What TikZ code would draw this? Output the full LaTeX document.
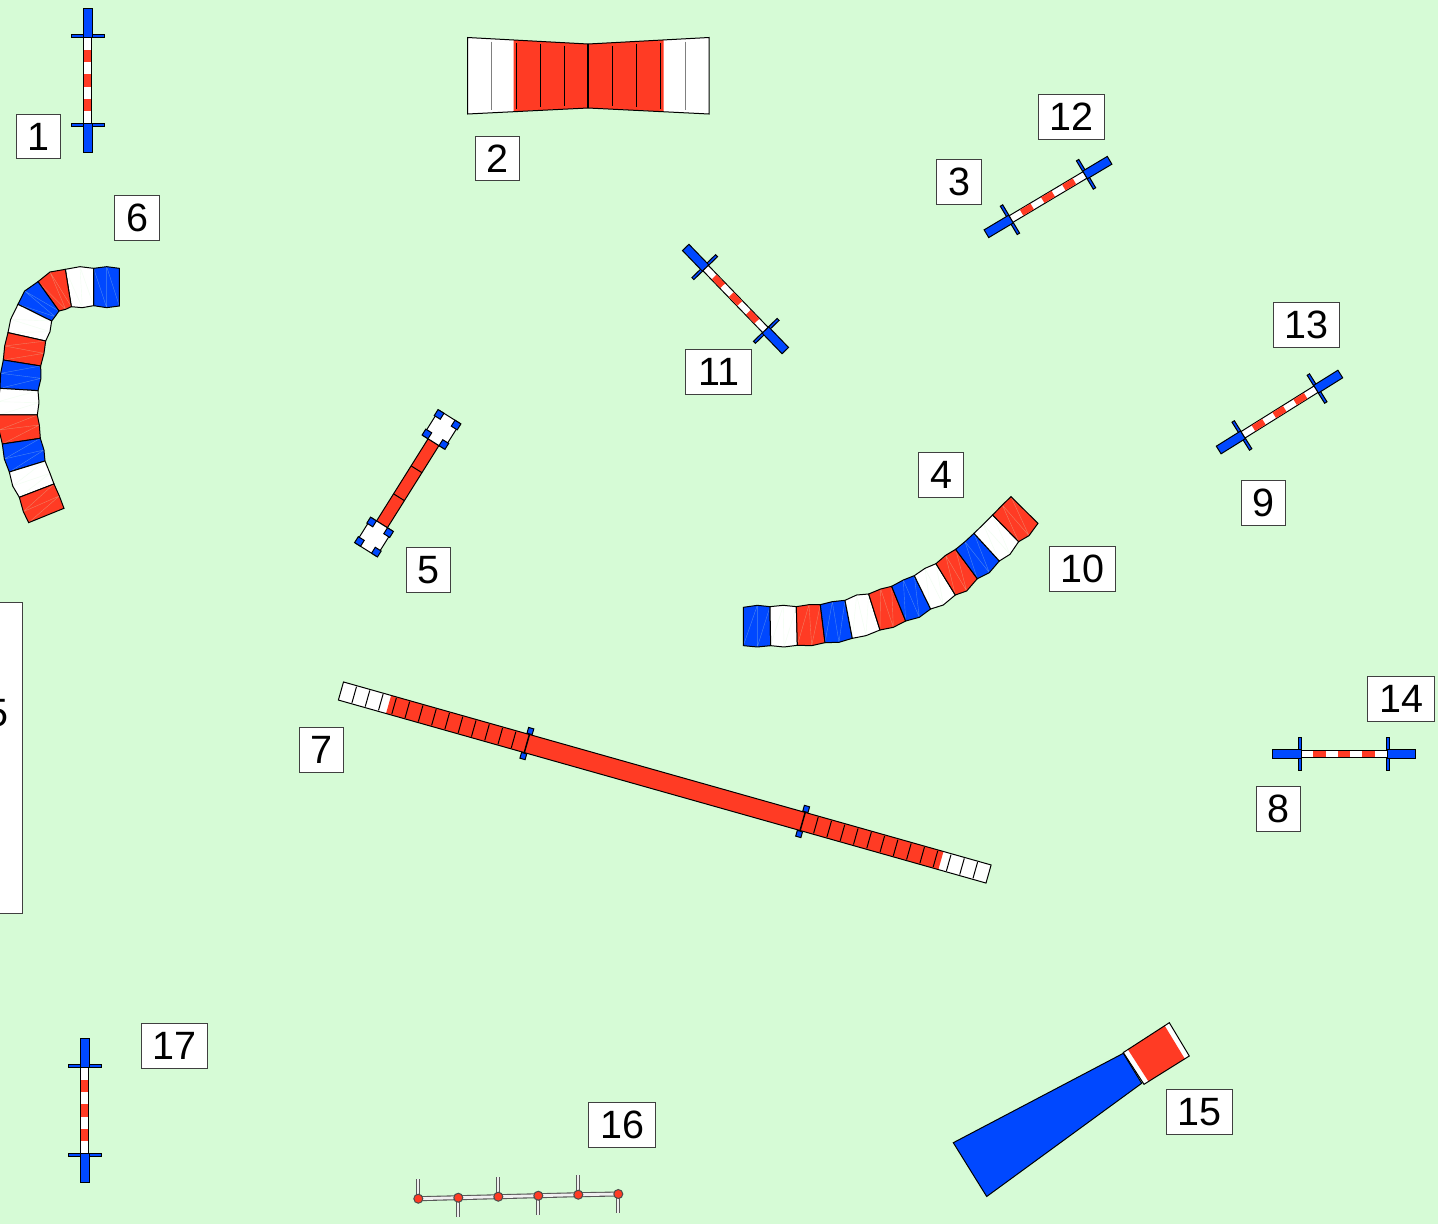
\documentclass[tikz,border=0pt]{standalone}
\usepackage{fontspec}
\setmainfont{Liberation Sans}
\usepackage{xcolor}
\definecolor{lawn}{RGB}{214,251,214}
\definecolor{jred}{RGB}{255,59,36}
\definecolor{jblue}{RGB}{0,72,255}
\tikzstyle{numbox} = [rectangle, draw=black!75, fill=white, minimum height=44.2pt, minimum width=44.2pt,
                      inner sep=0pt, line width=0.9pt, font=\fontsize{39.5}{39.5}\selectfont]
\tikzstyle{widebox} = [numbox, minimum width=66.2pt]
\tikzstyle{edge}   = [draw=black, line width=1pt]
\tikzstyle{seam}   = [draw=lawn, line width=0.4pt, opacity=0.35]
\tikzstyle{slat}   = [draw=black, line width=1pt]
\tikzstyle{fine}   = [x=0.3333pt, y=-0.3333pt]
\tikzstyle{weave}  = [draw=black!65, double=black!6, double distance=2.8pt, line width=1.1pt]
\tikzstyle{weavetick} = [weave, double distance=2pt]
\tikzset{barjump/.pic={
  \foreach \s in {-1,1} {
    \draw[edge, fill=jblue] (\s*44.3-1.4,-16.5) rectangle (\s*44.3+1.4,16.5);
    \draw[edge, fill=jblue] (\s*43,-4.5) rectangle (\s*71.7,4.5);
  }
  \draw[edge, fill=white] (-43,-3.8) rectangle (43,3.8);
  \foreach \k in {1,3,5}
    \fill[jred] (-43+\k*12.29,-3.3) rectangle (-43+\k*12.29+12.29,3.3);
}}
% one piece of a curved tube: top edge, then bottom edge back
\newcommand{\tubeseg}[7]{%
  \fill[#1] (#2) -- (#3) -- (#4) -- (#5) -- (#6) -- (#7) -- cycle;
  \draw[seam] (#7) -- (#3) -- (#6) -- (#4);
  \draw[edge] (#2) -- (#3) -- (#4) -- (#5) -- (#6) -- (#7) -- cycle;
}
\begin{document}
\begin{tikzpicture}[x=1pt, y=-1pt]
  \clip (0,0) rectangle (1438,1224);
  \fill[lawn] (0,0) rectangle (1438,1224);

  % Bar jumps
  \pic at (87.5,80.5) [rotate=90] {barjump};
  \pic at (1048,197) [rotate=30.8] {barjump};
  \pic at (735.5,299) [rotate=-46] {barjump};
  \pic at (1279.5,412) [rotate=32] {barjump};
  \pic at (1344,754) {barjump};
  \pic at (84.5,1110.5) [rotate=90] {barjump};

  % Straight chute
  \fill[white] (467.5,37.5) -- (588,44) -- (709,37.5) -- (709,114) -- (588,108) -- (467.5,114) -- cycle;
  \fill[jred] (513.5,40) -- (588,44) -- (663.5,40) -- (663.5,111.5) -- (588,108) -- (513.5,111.5) -- cycle;
  \draw[edge] (467.5,37.5) -- (588,44) -- (709,37.5) -- (709,114) -- (588,108) -- (467.5,114) -- cycle;
  \foreach \x in {516,540,564,612,636,660}
    \draw[slat] (\x,{47-6.7*abs(\x-588)/121}) -- (\x,{105+6*abs(\x-588)/121});
  \foreach \x in {491.5,685}
    \draw[slat, draw=black!50] (\x,{47-6.7*abs(\x-588)/121}) -- (\x,{105+6*abs(\x-588)/121});
  \draw[draw=black, line width=1.5pt] (588,44) -- (588,108);

  % Curved tube, left
  \begin{scope}[shift={(0,260)}, fine]
    \tubeseg{jblue}{358,25}{320,20}{281,25}{281,137}{320,143}{358,138}
    \tubeseg{white}{281,25}{240,20}{196,28}{214,140}{247,143}{281,137}
    \tubeseg{jred}{196,28}{150,36}{114,65}{177,153}{197,148}{214,140}
    \tubeseg{jblue}{114,65}{74,93}{54,133}{155,183}{165,170}{177,153}
    \tubeseg{white}{54,133}{32,178}{24,218}{137,243}{150,215}{155,183}
    \tubeseg{jred}{24,218}{14,258}{10,300}{122,318}{132,280}{137,243}
    \tubeseg{jblue}{10,300}{2,340}{0,385}{114,392}{123,355}{122,318}
    \tubeseg{white}{0,385}{-5,425}{-4,465}{112,465}{117,428}{114,392}
    \tubeseg{jred}{-4,465}{-3,510}{7,552}{121,535}{118,495}{112,465}
    \tubeseg{jblue}{7,552}{13,597}{28,636}{135,603}{132,570}{121,535}
    \tubeseg{white}{28,636}{38,678}{58,712}{162,672}{150,640}{135,603}
    \tubeseg{jred}{58,712}{70,755}{86,788}{192,745}{178,708}{162,672}
  \end{scope}

  % Curved tube, middle
  \begin{scope}[shift={(735,490)}, fine]
    \tubeseg{jblue}{25,352}{67,346}{105,350}{107,467}{67,471}{25,467}
    \tubeseg{white}{105,350}{145,346}{184,350}{187,466}{147,471}{107,467}
    \tubeseg{jred}{184,350}{222,344}{256,344}{270,458}{230,467}{187,466}
    \tubeseg{jblue}{256,344}{292,335}{330,331}{352,445}{312,457}{270,458}
    \tubeseg{white}{330,331}{365,315}{401,312}{435,420}{393,437}{352,445}
    \tubeseg{jred}{401,312}{437,297}{470,289}{512,393}{475,412}{435,420}
    \tubeseg{jblue}{470,289}{505,270}{538,257}{587,357}{553,382}{512,393}
    \tubeseg{white}{538,257}{570,235}{603,221}{661,315}{625,345}{587,357}
    \tubeseg{jred}{603,221}{632,196}{662,178}{727,266}{695,303}{661,315}
    \tubeseg{jblue}{662,178}{690,155}{717,130}{793,213}{763,248}{727,266}
    \tubeseg{white}{717,130}{745,103}{773,75}{851,155}{825,193}{793,213}
    \tubeseg{jred}{773,75}{802,45}{828,20}{909,100}{882,137}{851,155}
  \end{scope}

  % Pause table
  \begin{scope}[shift={(407.75,483.25)}, rotate=57.9]
    \draw[edge, fill=jred] (-48.5,-6.4) rectangle (48.5,6.4);
    \draw[slat] (-16.5,-6.4) -- (-16.5,6.4);
    \draw[slat] (16.5,-6.4) -- (16.5,6.4);
    \foreach \s in {-63.5,63.5} {
      \draw[edge, fill=white] (\s-15,-12.4) rectangle (\s+15,12.4);
      \foreach \a in {-11.5,11.5}
        \foreach \b in {-10,10}
          \draw[edge, fill=jblue] (\s+\a-3.5,\b-3.5) rectangle (\s+\a+3.5,\b+3.5);
    }
  \end{scope}

  % Dog walk
  \begin{scope}[shift={(664.75,782.5)}, rotate=-15.78]
    \fill[white] (-336.5,-9.4) rectangle (336.5,9.4);
    \fill[jred] (-287,-9.4) rectangle (287,9.4);
    \draw[edge] (-336.5,-9.4) rectangle (336.5,9.4);
    \foreach \k in {1,...,13} {
      \draw[slat] (-336.5+\k*13.8,-8.4) -- (-336.5+\k*13.8,8.4);
      \draw[slat] (336.5-\k*13.8,-8.4) -- (336.5-\k*13.8,8.4);
    }
    \foreach \s in {-143.3,143.3} {
      \draw[draw=black, line width=1.5pt] (\s,-10.5) -- (\s,10.5);
      \draw[edge, fill=jblue] (\s-2.7,-16) rectangle (\s+2.7,-10);
      \draw[edge, fill=jblue] (\s-2.7,10) rectangle (\s+2.7,16);
    }
  \end{scope}

  % Collapsed tunnel
  \draw[edge, fill=jblue] (953.3,1142.7) -- (986.7,1196.5) -- (1141.7,1083.3) -- (1123.3,1053.3) -- cycle;
  \fill[white] (1123.3,1052.5) -- (1169.3,1022.7) -- (1189.3,1056) -- (1144,1084.3) -- cycle;
  \fill[jred] (1127.9,1049.5) -- (1164.7,1025.7) -- (1184.8,1058.8) -- (1148.5,1081.5) -- cycle;
  \draw[edge] (1123.3,1052.5) -- (1169.3,1022.7) -- (1189.3,1056) -- (1144,1084.3) -- cycle;

  % Weave poles
  \foreach \i/\x/\y/\d in {1/418.3/1198.7/-19.3, 2/458.3/1197.7/19.3, 3/498.3/1196.7/-19.3,
                           4/538.3/1195.7/19.3, 5/578.3/1194.7/-19.3, 6/618.3/1194/19.3} {
    \coordinate (pole\i) at (\x,\y);
    \draw[weavetick] (pole\i) -- ++(0,\d);
  }
  \foreach \i/\j in {1/2, 2/3, 3/4, 4/5, 5/6}
    \draw[weave] (pole\i) -- (pole\j);
  \foreach \i in {1,...,6}
    \node[circle, edge, draw=black!70, fill=jred, minimum size=9pt, inner sep=0pt] (cap\i) at (pole\i) {};

  % Numbers
  \node[numbox] (num1) at (38.5,136.5) {1};
  \node[numbox] (num2) at (497.5,158.5) {2};
  \node[numbox] (num3) at (959,182) {3};
  \node[numbox] (num4) at (941,475) {4};
  \node[numbox] (num5) at (428.5,570) {5};
  \node[numbox] (num6) at (137,218) {6};
  \node[numbox] (num7) at (321.5,750) {7};
  \node[numbox] (num8) at (1278.5,809) {8};
  \node[numbox] (num9) at (1263.5,503) {9};
  \node[widebox] (num10) at (1082.5,569) {10};
  \node[widebox] (num11) at (718.5,372) {11};
  \node[widebox] (num12) at (1071.5,117) {12};
  \node[widebox] (num13) at (1306.5,325) {13};
  \node[widebox] (num14) at (1401,699) {14};
  \node[widebox] (num15) at (1199.5,1112) {15};
  \node[widebox] (num16) at (622,1125) {16};
  \node[widebox] (num17) at (174.5,1046) {17};

  % Box cut off by the left edge
  \node[numbox, minimum width=82pt, minimum height=311pt] (sidebox) at (-19,757.5) {};
  \node[font=\fontsize{39.5}{39.5}\selectfont, inner sep=0pt] (sidenum) at (-3,713) {5};
\end{tikzpicture}
\end{document}
